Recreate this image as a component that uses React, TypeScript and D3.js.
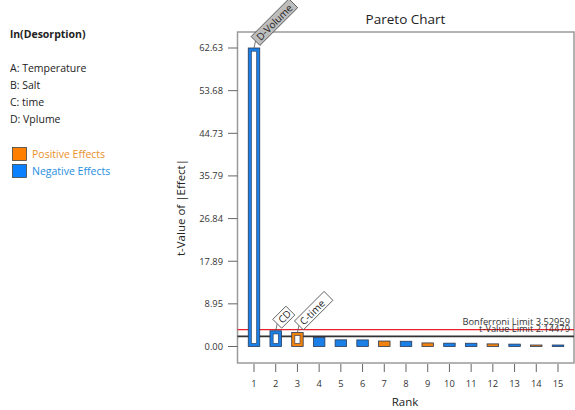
import React from "react";
import * as d3 from "d3";

// Pareto chart of |t| values for the ln(Desorption) model terms
const ranks = [1, 2, 3, 4, 5, 6, 7, 8, 9, 10, 11, 12, 13, 14, 15];
const tValues = [62.63, 3.3, 2.95, 1.9, 1.4, 1.38, 1.15, 1.1, 0.75, 0.7, 0.68, 0.55, 0.5, 0.15, 0.1];
const effectSign = ["neg", "neg", "pos", "neg", "neg", "neg", "pos", "neg", "pos", "neg", "neg", "pos", "neg", "pos", "neg"];
const termLabels = ["D-Volume", "CD", "C-time", "", "", "", "", "", "", "", "", "", "", "", ""];
const yTickValues = [0, 8.95, 17.89, 26.84, 35.79, 44.73, 53.68, 62.63];
const bonferroniLimit = 3.52959;
const tValueLimit = 2.14479;
const factorList = ["A: Temperature", "B: Salt", "C: time", "D: Vplume"];
const responseName = "ln(Desorption)";

const W = 575;
const H = 410;
const FONT = "'Open Sans', 'Noto Sans', sans-serif";
const BLUE = "#1a7fe6";
const ORANGE = "#f0820f";
const EDGE = "#2a3a55";

export default function App() {
  const y = d3.scaleLinear().domain([0, 62.63]).range([346.5, 48]);
  const x = d3.scaleLinear().domain([1, 15]).range([254, 558]);
  const frame = { left: 237.5, right: 574, top: 32, bottom: 363 };
  const barW = 11.5;

  return (
    <svg
      width={W}
      height={H}
      style={{ position: "absolute", left: 0, top: 0, background: "#fff" }}
      fontFamily={FONT}
    >
      {/* left-hand info panel */}
      <text x={10} y={38} fontSize={10.5} fontWeight="bold" fill="#222">
        {responseName}
      </text>
      {factorList.map((f, i) => (
        <text key={f} x={10} y={72 + i * 17} fontSize={10.5} fill="#222">
          {f}
        </text>
      ))}
      <rect x={12.5} y={147.5} width={14} height={13} fill="#ff8000" stroke="#444" strokeWidth={0.8} />
      <text x={32} y={158} fontSize={10.5} fill="#e8902a">
        Positive Effects
      </text>
      <rect x={12.5} y={164.5} width={14} height={13} fill="#0a80ff" stroke="#444" strokeWidth={0.8} />
      <text x={32} y={175} fontSize={10.5} fill="#1e8ee0">
        Negative Effects
      </text>

      {/* title */}
      <text x={405.5} y={24} fontSize={13.5} textAnchor="middle" fill="#222">
        Pareto Chart
      </text>

      {/* plot frame */}
      <rect
        x={frame.left}
        y={frame.top}
        width={frame.right - frame.left}
        height={frame.bottom - frame.top}
        fill="none"
        stroke="#9a9a9a"
        strokeWidth={1.5}
      />

      {/* y axis */}
      {yTickValues.map((t) => (
        <g key={t}>
          <line x1={228} x2={frame.left} y1={y(t)} y2={y(t)} stroke="#666" strokeWidth={1} />
          <text x={223} y={y(t) + 3.3} fontSize={9.3} textAnchor="end" fill="#333">
            {t.toFixed(2)}
          </text>
        </g>
      ))}
      <text
        transform={`translate(185,${(frame.top + frame.bottom) / 2 + 10}) rotate(-90)`}
        fontSize={11.5}
        textAnchor="middle"
        fill="#222"
      >
        t-Value of |Effect|
      </text>

      {/* x axis */}
      {ranks.map((r) => (
        <g key={r}>
          <line x1={x(r)} x2={x(r)} y1={364} y2={372} stroke="#666" strokeWidth={1} />
          <text x={x(r)} y={387} fontSize={9.3} textAnchor="middle" fill="#333">
            {r}
          </text>
        </g>
      ))}
      <text x={405} y={406} fontSize={11.5} textAnchor="middle" fill="#222">
        Rank
      </text>

      {/* limit lines */}
      <line x1={frame.left} x2={frame.right} y1={y(bonferroniLimit)} y2={y(bonferroniLimit)} stroke="#e8202a" strokeWidth={1.3} />
      <line x1={frame.left} x2={frame.right} y1={y(tValueLimit)} y2={y(tValueLimit)} stroke="#333" strokeWidth={1.8} />
      <text x={570} y={y(bonferroniLimit) - 4.5} fontSize={9.3} textAnchor="end" fill="#333">
        {`Bonferroni Limit ${bonferroniLimit}`}
      </text>
      <text x={570} y={y(tValueLimit) - 4} fontSize={9.3} textAnchor="end" fill="#333">
        {`t-Value Limit ${tValueLimit}`}
      </text>

      {/* bars */}
      {ranks.map((r, i) => {
        const v = tValues[i];
        const color = effectSign[i] === "pos" ? ORANGE : BLUE;
        const top = y(v);
        const base = y(0);
        const left = x(r) - barW / 2;
        const h = Math.max(base - top, 1.5);
        const selected = termLabels[i] !== "";
        return (
          <g key={r}>
            <rect x={left} y={base - h} width={barW} height={h} fill={color} stroke={EDGE} strokeWidth={0.8} />
            {selected && (
              <rect
                x={left + 3.2}
                y={base - h + 3.2}
                width={barW - 6.4}
                height={Math.max(h - 6.4, 0)}
                fill="#fff"
                stroke={EDGE}
                strokeWidth={0.6}
              />
            )}
          </g>
        );
      })}

      {/* term labels on the significant bars */}
      {ranks.map((r, i) => {
        const label = termLabels[i];
        if (!label) return null;
        const cx = x(r);
        const top = y(tValues[i]);
        const ax = cx + 1.5;
        const ay = top - 7;
        const boxW = label.length * 5.8 + 7;
        const boxH = 12.5;
        const isMain = i === 0;
        return (
          <g key={`lab-${r}`}>
            <line x1={cx} y1={top} x2={ax} y2={ay} stroke="#555" strokeWidth={0.8} />
            <g transform={`translate(${ax},${ay}) rotate(-45)`}>
              <rect
                x={0}
                y={-boxH / 2}
                width={boxW}
                height={boxH}
                fill={isMain ? "#bdbdbd" : "#fff"}
                stroke="#444"
                strokeWidth={0.8}
              />
              <text x={3.5} y={3.8} fontSize={10} fill="#222">
                {label}
              </text>
            </g>
          </g>
        );
      })}
    </svg>
  );
}
